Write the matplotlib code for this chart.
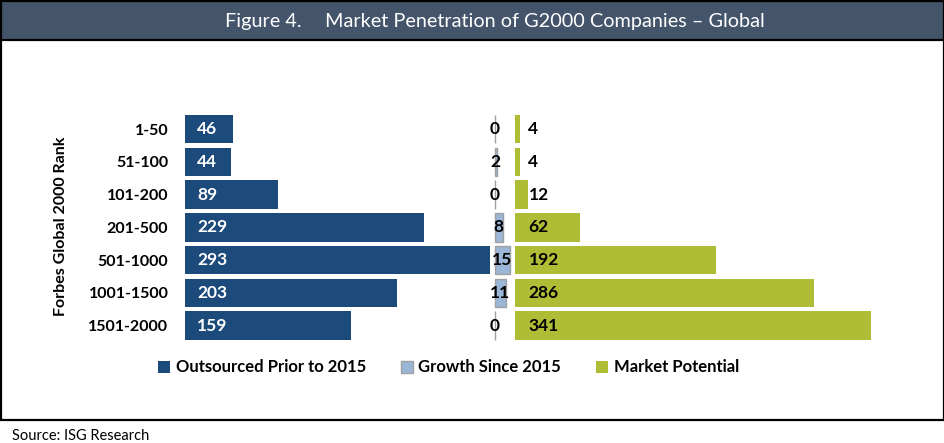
import matplotlib

matplotlib.use("Agg")
import matplotlib.pyplot as plt
from matplotlib.patches import Rectangle
import numpy as np

# Data (Forbes Global 2000 rank bands)
ranks = ["1-50", "51-100", "101-200", "201-500", "501-1000", "1001-1500", "1501-2000"]
outsourced = [46, 44, 89, 229, 293, 203, 159]
growth = [0, 2, 0, 8, 15, 11, 0]
potential = [4, 4, 12, 62, 192, 286, 341]

series_names = ["Outsourced Prior to 2015", "Growth Since 2015", "Market Potential"]

# Colours
DARK_BLUE = "#1C4A7B"
LIGHT_BLUE = "#9BB6D6"
GREEN = "#AFBC36"
TITLE_BG = "#44546A"

# offsets of the three "columns" on the shared value scale
GROWTH_START = 297
POTENTIAL_START = 317

plt.rcParams["font.family"] = ["Lato", "DejaVu Sans"]

W, H = 945, 443
fig = plt.figure(figsize=(W / 100, H / 100), dpi=100)

# outer frame + title band
fig.patches.append(Rectangle((1 / W, 1 - 420 / H), 943 / W, 419 / H, transform=fig.transFigure,
                             fill=False, ec="black", lw=1.6, zorder=0))
fig.patches.append(Rectangle((1 / W, 1 - 40 / H), 943 / W, 39 / H, transform=fig.transFigure,
                             fc=TITLE_BG, ec="black", lw=1.6, zorder=1))
fig.text(225 / W, 1 - 21 / H, "Figure 4.", color="white", fontsize=14.3, ha="left", va="center")
fig.text(325 / W, 1 - 21 / H, "Market Penetration of G2000 Companies \u2013 Global", color="white",
         fontsize=14.3, ha="left", va="center")

ax = fig.add_axes([185 / W, 1 - 342 / H, 688 / W, 229.3 / H])
y = np.arange(len(ranks))
h = 0.87

b1 = ax.barh(y, outsourced, height=h, color=DARK_BLUE, label=series_names[0])
b2 = ax.barh(y, growth, left=GROWTH_START, height=h, color=LIGHT_BLUE, edgecolor="#A0A0A0",
             linewidth=1, label=series_names[1])
b3 = ax.barh(y, potential, left=POTENTIAL_START, height=h, color=GREEN, label=series_names[2])

for i in range(len(ranks)):
    ax.text(11.5, i, str(outsourced[i]), color="white", fontsize=12.5, fontweight="bold",
            ha="left", va="center")
    ax.text(GROWTH_START + growth[i] / 2, i, str(growth[i]), color="black", fontsize=12.5,
            fontweight="bold", ha="center", va="center")
    ax.text(POTENTIAL_START + 12.5, i, str(potential[i]), color="black", fontsize=12.5,
            fontweight="bold", ha="left", va="center")

ax.set_xlim(0, 660)
ax.set_ylim(len(ranks) - 0.5, -0.5)
ax.set_yticks(y)
ax.set_yticklabels(ranks, fontsize=11.5, fontweight="bold")
ax.tick_params(axis="y", length=0, pad=12)
ax.set_xticks([])
for s in ax.spines.values():
    s.set_visible(False)

ax.set_ylabel("Forbes Global 2000 Rank", fontsize=11.5, fontweight="bold")
ax.yaxis.set_label_coords(-0.17, 0.506)

fig.legend(handles=[b1, b2, b3], loc="center", bbox_to_anchor=(448.5 / W, 1 - 367.5 / H), ncol=3,
           frameon=False, prop={"weight": "bold", "size": 12},
           handlelength=0.7, handleheight=0.7, handletextpad=0.35, columnspacing=2.1)

fig.text(12 / W, 1 - 436 / H, "Source: ISG Research", fontsize=10.5, ha="left", va="center")

fig.savefig("out.png", dpi=100)
